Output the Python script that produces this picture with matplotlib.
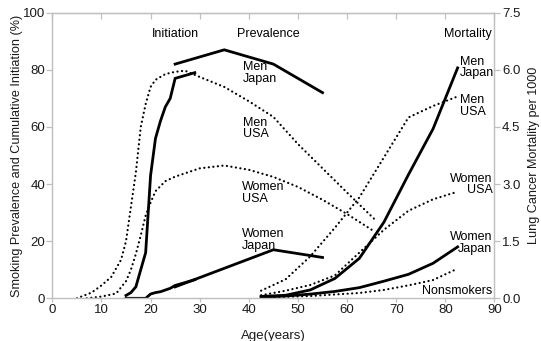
import matplotlib
matplotlib.use("Agg")
import matplotlib.pyplot as plt

plt.rcParams['font.family'] = ['Liberation Sans', 'DejaVu Sans']

# Initiation / prevalence (%) vs age
men_japan_init_age = [15, 16, 17, 18, 19, 20, 21, 22, 23, 24, 25, 29]
men_japan_init = [1, 2, 4, 10, 16, 43, 56, 62, 67, 70, 77, 79]

men_japan_prev_age = [25, 35, 45, 55]
men_japan_prev = [82, 87, 82, 72]

women_japan_init_age = [15, 19, 20, 21, 22, 24, 25, 27, 29]
women_japan_init = [0, 0, 1.5, 2, 2.3, 3.5, 4.5, 5.5, 6.5]

women_japan_prev_age = [25, 35, 45, 55]
women_japan_prev = [4, 10.5, 17, 14.3]

men_usa_age = [5, 8, 10, 12, 14, 15, 16, 17, 18, 19, 20, 21, 23, 25, 27, 30, 35, 40, 45, 50, 55, 60, 66]
men_usa = [0, 2, 4.5, 7.5, 13.5, 20, 32, 44, 60, 68, 74, 76.5, 78.5, 79.3, 79.7, 77.5, 74, 69, 63.5, 54, 45.5, 37, 27]

women_usa_age = [7, 10, 13, 15, 16, 17, 18, 19, 20, 21, 23, 25, 30, 35, 40, 45, 50, 55, 60, 65]
women_usa = [0, 0.6, 1.7, 6, 10, 15.5, 22, 29, 33.5, 37.5, 41, 42.6, 45.5, 46.5, 45, 42.5, 39, 34.5, 29.5, 24]

# Lung cancer mortality per 1000
mort_age = [42.5, 47.5, 52.5, 57.5, 62.5, 67.5, 72.5, 77.5, 82.5]
mort_men_japan = [0.05, 0.08, 0.22, 0.52, 1.05, 2.0, 3.25, 4.45, 6.05]
mort_men_usa = [0.2, 0.5, 1.1, 1.85, 2.65, 3.7, 4.75, 5.05, 5.3]
mort_women_usa = [0.08, 0.2, 0.35, 0.6, 1.2, 1.8, 2.3, 2.6, 2.8]
mort_women_japan = [0.03, 0.06, 0.11, 0.18, 0.28, 0.45, 0.63, 0.92, 1.35]
mort_nonsmokers = [0.02, 0.04, 0.06, 0.1, 0.14, 0.22, 0.34, 0.48, 0.78]

fig = plt.figure(figsize=(5.41, 3.41), dpi=100)
ax = fig.add_axes([0.0967, 0.1252, 0.8173, 0.8376])
ax2 = ax.twinx()

solid = dict(color='black', lw=2.0, solid_joinstyle='miter')
dot = dict(color='black', lw=1.6, linestyle=(0, (0.05, 2.0)), dash_capstyle='round')

ax.plot(men_japan_init_age, men_japan_init, **solid)
ax.plot(men_japan_prev_age, men_japan_prev, **solid)
ax.plot(women_japan_init_age, women_japan_init, **solid)
ax.plot(women_japan_prev_age, women_japan_prev, **solid)
ax.plot(men_usa_age, men_usa, **dot)
ax.plot(women_usa_age, women_usa, **dot)

ax2.plot(mort_age, mort_men_japan, **solid)
ax2.plot(mort_age, mort_women_japan, **solid)
ax2.plot(mort_age, mort_men_usa, **dot)
ax2.plot(mort_age, mort_women_usa, **dot)
ax2.plot(mort_age, mort_nonsmokers, **dot)

ax.set_xlim(0, 90)
ax.set_ylim(0, 100)
ax2.set_ylim(0, 7.5)
ax.set_xticks(range(0, 91, 10))
ax.set_yticks(range(0, 101, 20))
ax2.set_yticks([0, 1.5, 3.0, 4.5, 6.0, 7.5])
ax2.set_yticklabels(['0.0', '1.5', '3.0', '4.5', '6.0', '7.5'])

gray = '#c0c0c0'
txt = '#1a1a1a'
for a in (ax, ax2):
    for s in a.spines.values():
        s.set_color(gray)
        s.set_linewidth(0.9)
ax.tick_params(axis='y', colors=gray, labelcolor=txt, labelsize=9.5, length=4, width=0.9, pad=1)
ax.tick_params(axis='x', colors=gray, labelcolor=txt, labelsize=9.5, length=3, width=0.9, pad=1)
ax2.tick_params(axis='y', colors=gray, labelcolor=txt, labelsize=9.5, length=4, width=0.9, pad=1.5)

top = ax.secondary_xaxis('top')
top.set_xticks(range(0, 91, 10))
top.tick_params(direction='in', colors=gray, length=4, width=0.9, labeltop=False)
top.spines['top'].set_color(gray)

ax.set_xlabel('Age(years)', fontsize=9.5, color=txt, labelpad=10)
ax.set_ylabel('Smoking Prevalence and Cumulative Initiation (%)', fontsize=9.1, color=txt, labelpad=0)
ax2.set_ylabel('Lung Cancer Mortality per 1000', fontsize=9.1, color=txt, labelpad=5)

fs = 9
ls = 0.95
ax.text(25, 92.5, 'Initiation', fontsize=fs, ha='center', va='center')
ax.text(44, 92.5, 'Prevalence', fontsize=fs, ha='center', va='center')
ax.text(89.4, 92.5, 'Mortality', fontsize=fs, ha='right', va='center')

ax.text(38.8, 83, 'Men\nJapan', fontsize=fs, ha='left', va='top', linespacing=ls)
ax.text(38.8, 63.5, 'Men\nUSA', fontsize=fs, ha='left', va='top', linespacing=ls)
ax.text(38.6, 41, 'Women\nUSA', fontsize=fs, ha='left', va='top', linespacing=ls)
ax.text(38.6, 24.5, 'Women\nJapan', fontsize=fs, ha='left', va='top', linespacing=ls)

ax.text(83.0, 85, 'Men\nJapan', fontsize=fs, ha='left', va='top', linespacing=ls)
ax.text(83.0, 71.5, 'Men\nUSA', fontsize=fs, ha='left', va='top', linespacing=ls)
ax.text(89.6, 44, 'Women\nUSA', fontsize=fs, ha='right', va='top', linespacing=ls, multialignment='right')
ax.text(89.6, 23.5, 'Women\nJapan', fontsize=fs, ha='right', va='top', linespacing=ls, multialignment='right')
ax.text(89.6, 2.7, 'Nonsmokers', fontsize=fs, ha='right', va='center')

fig.savefig('out.png', dpi=100)
